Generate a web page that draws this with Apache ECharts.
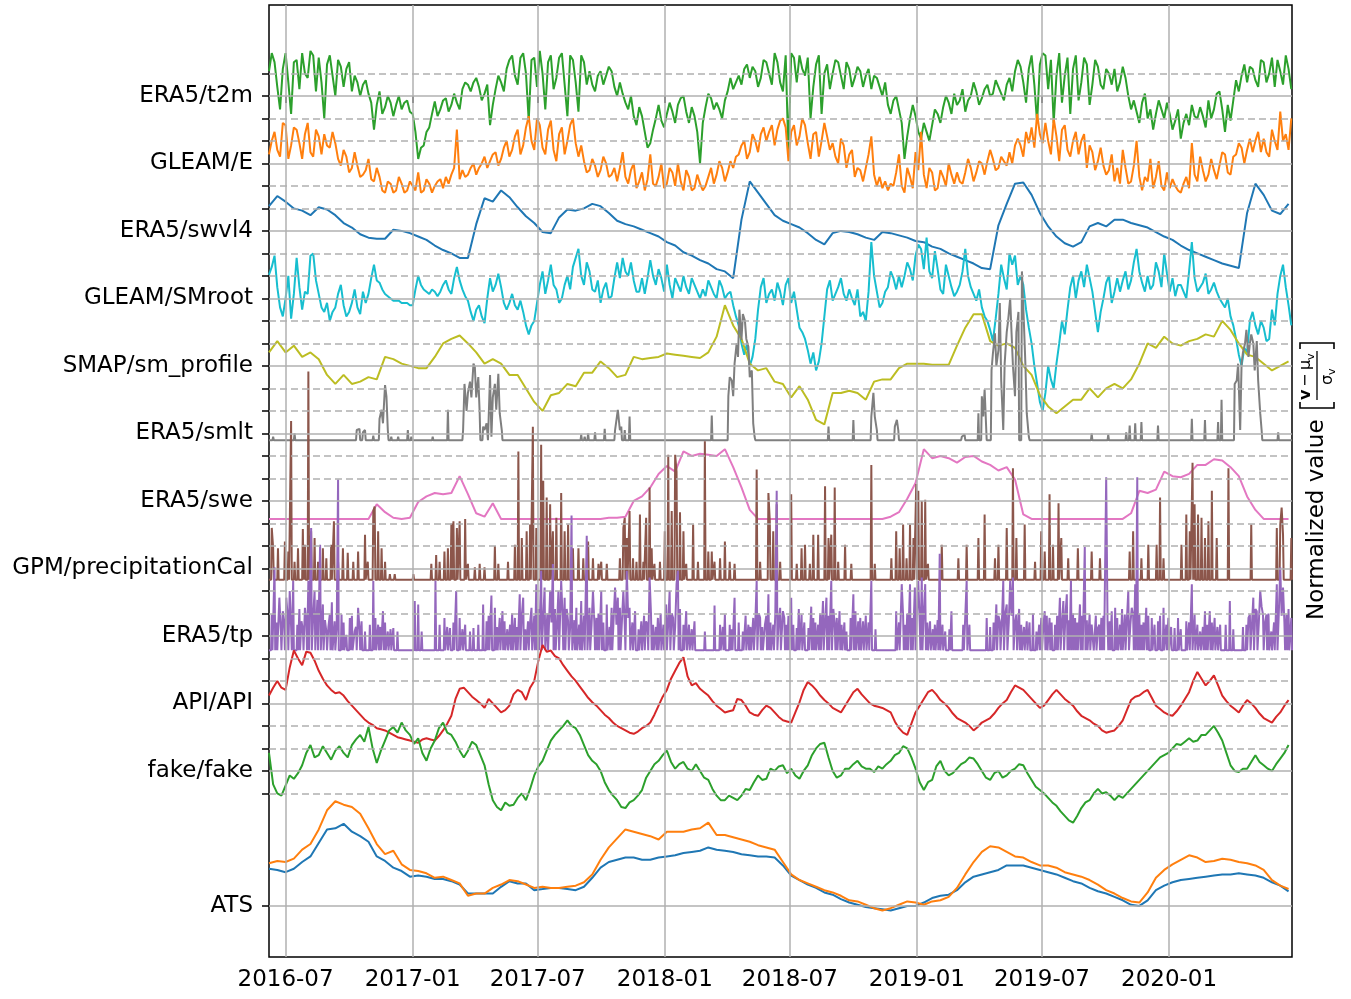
<!DOCTYPE html>
<html>
<head>
<meta charset="utf-8">
<script src="https://cdn.jsdelivr.net/npm/echarts@6/dist/echarts.min.js"></script>
<style>
  html, body { margin: 0; padding: 0; background: #fff; }
  #chart { width: 1351px; height: 999px; }
</style>
</head>
<body>
<div id="chart"></div>
<script>
const DAY = 86400000;
const start = Date.UTC(2016, 5, 7);
const nDays = 1481;
const end = start + nDays * DAY;

// row labels, top to bottom, and where their centre sits on the y axis
const rowNames = ['ERA5/t2m', 'GLEAM/E', 'ERA5/swvl4', 'GLEAM/SMroot', 'SMAP/sm_profile', 'ERA5/smlt',
  'ERA5/swe', 'GPM/precipitationCal', 'ERA5/tp', 'API/API', 'fake/fake', 'ATS'];
const rowCenters = [0, -3, -6, -9, -12, -15, -18, -21, -24, -27, -30, -36];
const tickDates = [[2016, 6], [2017, 0], [2017, 6], [2018, 0], [2018, 6], [2019, 0], [2019, 6], [2020, 0]];

// noisy series: one value every 8 days, plus the value 4 days later (mid)
const t2m = [1.1,1.5,-0.6,1.9,-0.8,1.6,1.9,0.8,1.8,1.7,-1.0,1.8,0.0,1.3,1.2,0.2,0.6,0.5,0.1,-1.5,
  0.2,-0.5,-0.3,-0.4,-0.6,-0.2,-0.8,-2.8,-2.2,-1.4,-0.25,-0.6,-0.1,-0.4,-0.3,0.3,0.5,0.6,0.4,0.1,
  -1.3,0.3,0.6,1.2,1.8,0.5,1.9,-1.1,1.7,2.0,-0.6,1.8,0.8,1.9,-0.9,1.6,-0.7,1.5,1.1,0.2,
  1.1,0.9,1.1,0.0,0.1,-0.6,-0.9,-0.5,-1.6,-2.1,-1.0,-1.1,-0.8,-0.7,-0.4,0.0,-1.2,-0.9,-3.0,-0.5,
  -0.1,-0.3,-1.0,0.2,0.3,0.9,1.2,0.8,1.1,0.8,1.5,0.5,1.5,0.2,-2.6,1.7,1.8,0.9,-1.0,1.4,
  -0.8,1.4,1.0,1.5,0.3,1.2,0.8,1.1,0.9,0.3,0.8,0.0,-0.4,-0.2,-0.6,-2.8,-1.0,-0.9,-1.9,-1.6,
  -1.3,-0.8,-0.5,-0.3,0.1,-0.2,-0.7,0.0,0.2,-0.1,0.5,0.1,0.4,-0.2,0.8,1.1,1.3,-0.3,1.8,-1.2,
  1.9,0.3,-1.2,1.9,0.9,-0.8,1.8,0.6,1.4,0.5,1.3,0.3,1.0,1.2,0.6,0.8,-0.6,-0.7,-0.3,-1.0,
  -1.5,-0.2,-1.0,-0.8,-1.1,-1.9,-0.8,-0.4,-1.0,-0.9,-0.2,-0.6,0.2,-1.6,-1.1,0.7,0.9,0.6,1.2,0.4,
  1.5,1.0,0.4,1.1,1.8,0.3];
const t2mMid = [1.9,0.4,1.2,0.6,1.5,0.3,1.0,2.0,0.2,0.6,1.4,0.9,1.6,0.4,1.5,0.9,0.0,0.7,-0.3,-0.4,
  -0.8,0.0,-0.9,0.0,-0.3,-0.7,-1.6,-2.3,-1.6,-0.8,-0.9,-0.2,-0.7,0.1,-0.6,0.6,0.2,0.8,-0.2,0.5,
  -0.4,0.9,0.2,1.6,0.9,1.7,1.0,1.6,0.4,1.0,1.5,0.3,1.7,0.5,1.8,0.6,1.8,0.5,0.5,0.9,
  0.5,1.3,0.4,0.6,-0.3,0.0,-1.3,-0.9,-2.3,-1.5,-0.4,-1.4,-0.3,-1.2,-0.1,-0.7,-0.5,-1.6,-1.2,0.1,
  -0.6,-0.6,-0.2,0.8,0.6,0.5,1.4,1.3,0.4,1.6,1.0,1.9,0.6,1.8,1.9,0.6,1.2,1.7,0.4,1.8,
  1.0,0.3,1.6,0.9,1.5,0.4,1.3,0.4,1.2,0.9,0.4,0.6,-0.8,0.0,-1.2,-1.8,-0.4,-1.6,-1.2,-2.0,
  -0.6,-1.2,0.0,-0.8,-0.4,0.3,-0.2,0.6,-0.4,0.3,0.0,0.7,0.1,0.5,0.2,1.6,0.6,1.2,0.5,1.4,
  1.8,1.6,0.9,-0.3,1.7,1.2,-0.2,1.7,-0.4,1.6,0.5,1.2,0.5,0.2,1.3,0.0,-0.2,-1.2,0.1,-0.6,
  -0.8,-0.6,-0.3,-1.5,-0.6,-1.2,-1.3,-0.9,-0.5,-1.4,-1.0,0.1,-0.6,-0.4,-0.2,0.2,1.4,1.3,0.7,1.6,
  0.6,1.7,1.6,0.5,1.2];

const gleamE = [0.4,1.4,0.3,1.7,0.8,1.5,0.2,1.8,0.3,1.2,1.3,0.7,0.9,-0.1,0.3,-0.2,-0.1,-0.5,0.2,-0.8,
  -0.6,-1.3,-0.9,-1.2,-0.9,-1.2,-1.0,-0.4,-1.2,-0.9,-1.0,-0.7,-0.6,-0.5,1.5,-0.3,-0.5,0.0,-0.2,0.3,
  0.1,0.5,0.2,1.0,0.6,1.5,0.8,2.1,0.6,1.7,0.4,1.9,0.1,1.6,1.0,2.0,0.3,0.1,-0.3,-0.1,
  -0.3,0.0,-0.5,-0.8,0.5,-0.9,0.0,-0.8,-1.2,0.4,-1.0,0.0,-0.9,-0.4,0.0,-1.2,-0.6,-1.1,-0.9,-1.0,
  -0.2,-0.5,-0.2,-0.4,-0.2,0.4,1.0,0.5,1.0,1.3,1.0,1.7,1.5,2.0,0.1,1.7,1.2,1.7,0.2,1.4,
  1.0,1.2,0.9,0.0,0.8,0.4,-0.6,-0.3,-0.2,1.2,-1.0,-1.1,-1.2,-1.0,0.4,-1.3,-0.6,0.5,1.4,-1.1,
  -0.4,-1.1,-0.6,0.0,-0.9,-0.8,-0.4,-0.2,-0.4,0.0,0.1,0.2,-0.2,0.1,0.5,0.8,0.8,1.4,1.6,2.2,
  0.9,1.0,2.0,0.1,1.7,0.3,1.4,1.0,-0.2,0.5,0.1,-0.1,-0.3,-0.8,-0.9,-0.2,-0.8,1.0,-1.2,-0.8,
  -1.1,0.1,-1.2,-1.1,-1.0,-1.3,-0.6,0.9,-0.8,-0.3,-0.5,-0.3,-0.1,0.4,-0.5,0.4,0.7,0.6,0.5,1.4,
  1.1,0.3,1.0,2.3,1.3,2.0];
const gleamEMid = [1.0,0.6,1.8,0.2,1.6,0.9,1.3,0.5,1.5,0.4,0.8,1.4,0.2,0.6,-0.4,0.5,-0.6,-0.3,-0.7,-0.2,
  -1.2,-0.8,-1.3,-0.6,-1.3,-0.8,-1.2,-1.3,-0.7,-1.3,-0.8,-1.1,-0.9,-0.2,-0.7,-0.6,-0.2,-0.5,0.0,-0.2,
  0.4,-0.1,0.7,0.3,1.2,0.4,1.6,1.0,2.0,0.7,1.5,0.6,1.3,0.4,1.7,0.9,0.8,-0.4,0.2,-0.6,
  0.3,-0.6,-0.2,-0.2,-0.6,-0.3,-1.1,-0.4,-0.7,-0.9,-0.6,-1.1,-0.2,-1.0,-0.8,-0.3,-1.2,-0.5,-1.2,-0.6,
  -0.9,0.1,-0.8,0.1,0.3,0.8,0.2,1.3,0.5,1.6,1.4,0.8,1.9,1.6,1.4,0.8,2.0,0.9,1.3,0.3,
  1.8,0.6,0.3,1.1,-0.2,0.6,-0.2,-0.8,0.4,-0.5,-0.6,-0.8,-0.9,-0.4,-1.0,-0.2,-1.1,-0.3,-0.5,-0.2,
  -1.2,-0.3,-1.0,-0.5,-0.4,-0.9,0.2,-0.8,0.1,-0.5,0.6,-0.3,0.3,-0.1,0.0,1.1,0.3,0.9,0.7,1.3,
  1.8,0.4,1.2,1.5,0.6,1.0,0.4,1.3,0.8,-0.3,0.7,-0.5,0.4,-0.2,0.6,-0.9,-0.1,-0.6,-0.6,0.2,
  -0.6,-1.0,-0.4,-0.7,-1.2,-0.9,-1.1,-0.5,0.3,-0.8,0.2,-0.7,0.5,-0.4,0.3,0.9,0.0,1.1,1.0,0.5,
  0.5,1.5,0.6,1.0,0.6];

const smroot = [1.05,1.9,-0.4,0.0,-0.9,1.8,-0.5,0.2,2.0,0.2,-0.6,-1.0,-0.4,0.6,-0.8,-0.2,-0.4,0.3,0.2,1.5,
  0.7,0.2,0.0,-0.1,-0.2,-0.2,-0.3,1.0,0.4,0.2,0.3,0.3,0.8,0.2,1.4,0.4,-0.1,-1.0,-0.3,-1.1,
  0.9,0.6,0.5,-0.5,0.2,-0.5,-0.6,-1.6,-1.0,0.6,0.2,1.5,0.4,0.0,1.0,1.4,2.2,0.6,1.2,0.3,
  -0.2,0.7,0.1,1.6,1.8,1.0,0.8,0.3,0.2,1.7,0.6,0.9,1.5,0.0,0.6,1.0,0.2,0.6,0.0,0.1,
  0.5,0.0,0.5,0.2,-0.3,-1.2,-2.5,-3.0,-1.8,0.5,-0.2,0.4,0.7,-0.3,0.9,0.3,-1.3,-1.8,-2.9,-3.2,
  -2.0,0.4,-0.1,0.5,0.2,0.4,-0.3,-0.8,-1.0,2.5,0.3,-0.2,0.5,0.9,1.0,1.0,1.3,1.9,2.2,2.7,
  0.9,1.3,0.2,1.0,0.1,0.6,2.2,0.5,-0.1,-0.4,-1.0,-1.9,0.2,0.9,2.0,1.9,1.0,-0.5,-2.0,-3.8,
  -5.0,-3.0,-4.0,-2.0,-1.6,0.5,0.0,1.2,1.5,0.3,-1.5,0.0,1.0,0.3,0.3,1.2,0.8,2.2,0.7,1.0,
  0.6,1.2,2.0,0.3,0.1,0.6,0.0,2.5,0.3,0.7,0.2,0.7,0.0,-0.4,-0.8,-1.8,-3.0,-2.4,-0.6,-1.6,
  -1.3,-1.8,-1.2,1.0,0.5,-1.2];
const smrootMid = [1.4,0.5,-0.8,1.0,0.2,0.5,0.3,1.9,0.8,-0.4,-0.2,-0.6,0.2,-0.3,-0.6,0.4,-0.7,-0.2,0.9,0.8,
  0.4,0.1,-0.1,-0.1,-0.2,-0.3,0.4,0.6,0.3,0.4,0.1,0.6,0.4,0.9,0.8,0.1,-0.6,-0.5,-0.8,0.0,
  0.3,1.1,-0.2,-0.2,-0.3,-0.1,-1.2,-1.2,-0.2,1.2,0.8,0.6,-0.2,0.6,0.4,1.8,1.0,1.6,0.4,0.8,
  0.4,0.0,0.9,0.9,1.2,1.6,0.3,0.9,0.9,1.0,1.3,0.3,0.6,0.9,0.3,0.5,0.9,0.3,0.4,0.8,
  0.2,0.8,0.0,0.3,-0.8,-2.0,-2.0,-2.6,-0.5,0.9,0.2,-0.1,0.3,0.6,-0.2,-0.5,-1.5,-2.3,-2.4,-2.8,
  -0.8,0.8,0.2,0.9,-0.1,0.0,0.4,-0.6,0.3,1.0,-0.4,0.3,1.2,0.4,0.5,1.6,0.8,2.4,1.3,1.2,
  2.1,0.4,1.5,0.5,0.3,1.2,1.0,0.2,0.4,-0.8,-1.4,-0.9,1.5,0.4,1.5,0.6,0.6,-1.3,-3.0,-4.6,
  -4.2,-3.6,-2.9,-1.0,-0.5,1.0,0.8,0.5,0.9,-0.6,-0.6,0.7,-0.2,0.9,0.8,0.4,1.6,1.2,0.3,0.4,
  1.6,0.5,1.1,0.9,0.6,0.3,1.2,0.9,0.5,1.1,0.4,0.3,-0.2,0.0,-1.2,-2.5,-2.2,-1.0,-1.2,-1.0,
  -1.9,-0.5,0.2,1.5,-0.3];

// smoother series, one value every 12 days (api and fake also have a mid value 6 days later)
const swvl4 = [1.1,1.55,1.3,1.0,0.9,0.7,1.05,0.95,0.7,0.35,0.15,-0.15,-0.3,-0.35,-0.35,0.05,0.0,-0.1,-0.25,-0.4,
  -0.65,-0.85,-1.0,-1.2,-1.2,0.3,1.45,1.3,1.8,1.5,1.05,0.65,0.35,-0.05,-0.1,0.6,0.95,0.9,1.0,1.2,
  1.1,0.8,0.45,0.3,0.2,0.05,-0.1,-0.25,-0.5,-0.65,-0.95,-1.1,-1.3,-1.45,-1.7,-1.8,-2.1,0.5,2.2,1.7,
  1.2,0.7,0.45,0.3,0.15,-0.1,-0.4,-0.6,-0.1,0.0,-0.05,-0.15,-0.3,-0.4,-0.05,-0.1,-0.2,-0.3,-0.45,-0.5,
  -0.7,-0.8,-1.0,-1.15,-1.3,-1.45,-1.65,-1.7,0.25,1.2,2.1,2.15,1.6,0.8,0.2,-0.25,-0.55,-0.7,-0.5,0.2,
  0.35,0.2,0.5,0.5,0.35,0.25,0.15,-0.05,-0.25,-0.4,-0.65,-0.85,-1.0,-1.15,-1.3,-1.45,-1.55,-1.65,0.8,2.1,
  1.6,0.9,0.75,1.2];

const smap = [0.6,1.1,0.6,0.9,0.4,0.6,0.3,-0.4,-0.8,-0.4,-0.8,-0.7,-0.5,-0.6,0.4,0.3,0.1,0.0,-0.1,-0.1,
  0.4,1.0,1.2,1.35,1.0,0.6,0.1,0.3,0.1,-0.4,-0.4,-1.0,-1.6,-2.0,-1.3,-1.2,-0.8,-0.9,-0.3,-0.3,
  0.2,-0.1,-0.5,-0.4,0.4,0.3,0.35,0.4,0.55,0.5,0.45,0.4,0.35,0.6,1.3,2.7,1.8,1.2,0.1,-0.2,
  -0.1,-0.7,-0.8,-1.4,-0.9,-1.5,-2.4,-2.6,-1.2,-1.2,-1.1,-1.2,-1.5,-0.7,-0.6,-0.6,-0.1,0.1,0.1,0.1,
  0.05,0.05,0.05,0.9,1.7,2.3,2.3,1.1,0.9,1.0,0.8,0.0,-0.4,-1.3,-1.8,-2.1,-1.8,-1.5,-1.5,-1.0,
  -1.4,-1.0,-0.8,-1.0,-0.6,0.1,1.0,0.8,1.3,1.0,0.9,1.1,1.2,1.4,1.3,2.0,1.6,1.0,0.5,0.4,
  0.1,-0.2,0.0,0.2];

const swe = [-0.8,-0.8,-0.8,-0.8,-0.8,-0.8,-0.8,-0.8,-0.8,-0.8,-0.8,-0.8,-0.8,-0.15,-0.5,-0.75,-0.8,-0.75,-0.05,0.2,
  0.35,0.3,0.35,1.1,0.3,-0.55,-0.7,-0.1,-0.8,-0.8,-0.8,-0.8,-0.8,-0.8,-0.8,-0.8,-0.8,-0.8,-0.8,-0.8,
  -0.8,-0.75,-0.75,-0.7,0.0,0.2,0.6,1.2,1.55,1.3,2.2,2.0,2.1,2.05,2.0,2.3,1.5,0.6,-0.4,-0.8,
  -0.8,-0.8,-0.8,-0.8,-0.8,-0.8,-0.8,-0.8,-0.8,-0.8,-0.8,-0.8,-0.8,-0.8,-0.8,-0.7,-0.5,0.1,0.8,2.3,
  1.9,2.0,1.9,1.7,1.95,2.0,1.75,1.6,1.35,1.5,0.95,-0.6,-0.8,-0.8,-0.8,-0.8,-0.8,-0.8,-0.8,-0.8,
  -0.8,-0.8,-0.8,-0.8,-0.55,0.45,0.35,0.5,1.3,1.1,1.05,1.2,1.6,1.6,1.85,1.8,1.5,1.1,0.2,-0.4,
  -0.8,-0.8,-0.8,-0.8];

const api = [0.35,1.0,0.6,2.35,1.7,2.25,1.45,0.8,0.45,0.35,-0.1,-0.5,-0.85,-1.1,-1.2,-1.4,-1.55,-1.65,-1.75,-1.55,
  -1.65,-1.2,-0.55,0.65,0.5,0.15,-0.2,0.0,-0.4,-0.1,0.6,0.15,1.0,2.6,2.35,2.0,1.45,1.0,0.5,0.05,
  -0.3,-0.65,-1.0,-1.2,-1.35,-1.1,-0.85,-0.1,0.6,1.45,2.05,0.8,0.65,0.35,-0.1,-0.4,-0.3,0.15,-0.4,-0.55,
  -0.1,-0.4,-0.75,-0.85,0.05,0.95,0.6,0.15,-0.2,-0.4,0.2,0.65,0.2,-0.1,-0.2,-0.4,-1.1,-1.4,-0.4,0.2,
  0.6,0.15,-0.2,-0.65,-0.85,-1.2,-0.85,-0.65,-0.2,0.15,0.8,0.6,0.2,-0.2,0.15,0.6,0.2,-0.1,-0.55,-0.75,
  -1.0,-1.3,-1.2,-0.75,0.15,0.35,0.6,-0.1,-0.4,-0.55,-0.1,0.5,1.4,0.8,1.25,0.35,-0.1,-0.4,0.15,-0.2,
  -0.65,-0.85,-0.4,0.15];
const apiMid = [0.7,0.7,1.6,2.0,2.3,1.9,1.1,0.6,0.5,0.1,-0.3,-0.7,-0.95,-1.15,-1.3,-1.5,-1.6,-1.7,-1.6,-1.6,
  -1.45,-0.9,0.2,0.7,0.3,0.0,0.2,-0.2,-0.3,0.4,0.5,0.7,1.9,2.3,2.1,1.7,1.2,0.75,0.25,-0.1,
  -0.5,-0.85,-1.1,-1.3,-1.25,-1.0,-0.5,0.3,1.1,1.8,1.2,0.9,0.5,0.1,-0.25,-0.35,0.2,-0.1,-0.5,-0.3,
  -0.2,-0.6,-0.8,-0.4,0.6,0.8,0.35,0.0,-0.3,-0.1,0.5,0.4,0.0,-0.15,-0.3,-0.8,-1.3,-0.9,-0.1,0.5,
  0.4,0.0,-0.45,-0.75,-1.0,-1.05,-0.75,-0.45,0.0,0.5,0.7,0.4,0.0,-0.1,0.4,0.4,0.05,-0.35,-0.65,-0.9,
  -1.2,-1.25,-1.0,-0.3,0.3,0.5,0.25,-0.25,-0.5,-0.35,0.2,1.0,1.1,1.0,0.8,0.1,-0.25,-0.1,0.0,-0.45,
  -0.75,-0.6,-0.1];

const fake = [0.8,-1.0,-0.65,-0.35,0.25,1.15,0.7,0.8,0.9,0.8,1.15,1.6,1.95,0.35,1.35,1.95,2.15,1.6,1.45,0.45,
  1.35,2.15,1.6,0.9,0.9,1.15,0.25,-1.3,-1.75,-1.55,-1.2,-1.3,-0.2,0.45,1.35,1.8,2.25,1.9,1.15,0.45,
  0.0,-0.85,-1.3,-1.65,-1.3,-0.85,0.0,0.45,0.9,0.1,0.4,0.0,0.0,-0.4,-1.1,-1.3,-1.2,-1.1,-0.85,-0.2,
  -0.35,0.0,0.25,0.1,-0.35,0.25,1.0,1.25,0.0,-0.2,0.1,0.45,0.1,-0.05,0.1,0.45,0.8,1.0,0.1,-0.85,
  -0.4,0.45,-0.2,0.1,0.4,0.55,0.0,-0.4,0.0,-0.2,0.1,0.25,-0.4,-0.85,-1.2,-1.55,-2.0,-2.3,-1.65,-1.3,
  -0.8,-0.95,-1.3,-1.2,-0.8,-0.4,0.0,0.4,0.7,1.0,1.15,1.45,1.35,1.6,2.0,1.35,0.25,-0.05,0.1,0.7,
  0.25,0.0,0.55,1.15];
const fakeMid = [-0.6,-1.1,-0.2,-0.1,0.8,0.6,1.1,0.5,1.1,0.6,1.4,1.3,1.0,0.9,1.8,1.7,1.8,1.2,0.8,1.0,
  1.9,1.7,1.3,0.6,1.3,0.7,-0.6,-1.6,-1.4,-1.5,-1.0,-0.8,0.2,0.9,1.6,2.0,2.0,1.6,0.7,0.3,
  -0.5,-1.1,-1.6,-1.4,-1.1,-0.3,0.3,0.7,0.4,0.3,0.1,0.3,-0.3,-0.8,-1.3,-1.1,-1.3,-0.8,-0.5,-0.4,
  0.1,0.2,-0.1,-0.2,0.0,0.7,1.2,0.6,-0.3,0.1,0.3,0.2,0.1,0.2,0.3,0.7,1.1,0.6,-0.5,-0.5,
  0.2,0.0,-0.1,0.3,0.6,0.3,-0.3,-0.1,-0.3,0.0,0.3,-0.1,-0.7,-1.0,-1.4,-1.8,-2.2,-2.0,-1.4,-1.0,
  -1.0,-1.1,-1.1,-1.0,-0.6,-0.2,0.2,0.6,0.8,1.2,1.3,1.3,1.6,1.8,1.7,0.8,0.0,0.1,0.4,0.4,
  0.1,0.3,0.8];

const atsBlue = [1.65,1.6,1.5,1.65,1.95,2.2,2.8,3.4,3.45,3.65,3.3,3.1,2.85,2.2,2.0,1.7,1.55,1.3,1.35,1.3,
  1.2,1.2,1.1,0.95,0.55,0.55,0.55,0.55,0.85,1.1,1.0,1.0,0.7,0.75,0.8,0.8,0.75,0.7,0.85,1.25,
  1.7,1.95,2.05,2.15,2.15,2.05,2.05,2.15,2.2,2.25,2.35,2.4,2.45,2.6,2.5,2.45,2.4,2.3,2.25,2.2,
  2.2,2.15,1.8,1.35,1.15,0.95,0.8,0.6,0.5,0.3,0.15,0.05,-0.05,-0.1,-0.15,-0.2,-0.1,0.0,0.0,0.15,
  0.35,0.45,0.5,0.7,1.05,1.3,1.4,1.5,1.6,1.8,1.8,1.8,1.7,1.6,1.5,1.4,1.25,1.1,1.0,0.8,
  0.65,0.55,0.4,0.25,0.05,0.0,0.25,0.7,0.9,1.05,1.15,1.2,1.25,1.3,1.35,1.4,1.4,1.45,1.4,1.35,
  1.25,1.05,0.9,0.65];

const atsOrange = [1.9,2.0,1.95,2.1,2.5,2.75,3.4,4.25,4.65,4.5,4.4,4.1,3.45,2.75,2.3,2.45,1.85,1.6,1.55,1.45,
  1.25,1.3,1.15,1.0,0.45,0.55,0.55,0.8,0.95,1.15,1.1,0.95,0.8,0.85,0.8,0.8,0.85,0.9,1.05,1.4,
  2.05,2.6,3.0,3.4,3.3,3.2,3.1,2.95,3.3,3.3,3.3,3.4,3.45,3.7,3.15,3.15,3.05,2.95,2.85,2.7,
  2.6,2.5,1.95,1.4,1.15,1.0,0.85,0.7,0.6,0.45,0.25,0.2,0.05,-0.1,-0.2,-0.1,0.05,0.2,0.15,0.05,
  0.2,0.25,0.4,0.8,1.4,1.95,2.4,2.65,2.6,2.4,2.2,2.15,1.95,1.8,1.8,1.7,1.5,1.4,1.3,1.15,
  0.95,0.7,0.55,0.35,0.2,0.15,0.6,1.25,1.6,1.85,2.05,2.25,2.15,1.95,2.0,2.1,2.05,1.95,1.9,1.8,
  1.6,1.15,0.9,0.75];

// spiky series: [day since start, value] for each event, resting level in between
const smltBase = -0.3;
const smltPeaks = [[6,-0.15],[37,0.0],[127,0.15],[131,0.2],[136,0.05],[139,0.15],[151,-0.1],[160,0.65],[163,1.05],[165,0.45],
  [168,2.15],[170,1.65],[172,0.15],[177,-0.15],[187,-0.15],[201,0.15],[206,-0.15],[237,-0.15],[259,1.05],[281,0.15],
  [283,2.2],[286,1.0],[288,1.8],[291,2.3],[293,1.6],[296,3.1],[298,2.95],[300,1.6],[303,2.5],[305,0.9],
  [310,0.3],[312,0.15],[315,0.45],[317,-0.3],[320,2.6],[322,-0.15],[324,1.6],[327,2.2],[329,1.05],[332,2.65],
  [334,0.9],[337,0.15],[452,-0.05],[457,-0.15],[462,0.0],[472,0.05],[486,0.2],[501,0.15],[505,1.05],[508,0.15],
  [510,0.3],[515,0.15],[522,0.75],[641,0.8],[665,1.65],[667,2.5],[670,2.35],[672,1.65],[674,3.1],[677,4.0],
  [679,3.4],[681,5.5],[684,4.15],[686,5.3],[689,5.0],[691,4.2],[694,3.85],[696,2.5],[699,2.8],[701,0.45],
  [703,-0.15],[810,0.3],[846,0.6],[872,0.75],[875,1.8],[877,0.75],[880,0.15],[906,0.3],[909,0.6],[911,0.15],
  [1003,-0.15],[1007,-0.05],[1027,0.9],[1032,1.65],[1034,0.75],[1036,1.95],[1039,-0.3],[1046,2.8],[1048,3.55],[1051,4.45],
  [1053,3.0],[1056,3.7],[1058,5.8],[1060,2.35],[1063,0.15],[1065,3.1],[1068,4.5],[1070,5.0],[1073,6.0],[1075,4.45],
  [1077,3.0],[1080,1.65],[1082,4.5],[1085,5.4],[1090,7.2],[1093,4.8],[1095,3.1],[1097,0.9],[1100,-0.15],[1191,0.0],
  [1215,-0.05],[1241,0.05],[1246,0.35],[1254,0.45],[1263,0.5],[1287,0.35],[1336,0.65],[1355,0.6],[1374,0.5],[1379,1.5],
  [1398,2.2],[1401,2.35],[1403,3.1],[1406,0.15],[1408,3.1],[1410,3.6],[1413,4.0],[1415,4.6],[1418,3.4],[1420,4.0],
  [1422,4.4],[1425,4.0],[1427,2.8],[1430,4.1],[1432,2.35],[1435,0.9],[1437,0.15],[1461,0.05]];

const gpmBase = -0.5;
const gpmPeaks = [[4,1.8],[6,0.9],[13,0.9],[23,1.2],[28,0.75],[32,6.55],[37,0.3],[42,0.9],[49,1.75],[52,1.05],
  [57,8.75],[61,1.65],[66,1.35],[71,0.3],[78,0.9],[83,0.45],[90,1.05],[94,2.1],[100,0.3],[107,0.9],
  [114,0.7],[122,0.3],[129,0.75],[139,1.5],[143,0.3],[151,2.55],[153,2.75],[158,1.65],[163,0.9],[168,0.3],
  [175,-0.25],[182,-0.25],[209,-0.25],[235,0.2],[242,0.6],[247,0.3],[254,0.75],[259,0.9],[264,2.0],[267,2.1],
  [272,1.8],[276,2.1],[284,2.2],[288,0.2],[298,0.05],[305,0.2],[312,0.05],[327,1.0],[332,0.2],[346,0.3],
  [356,1.05],[361,5.2],[366,1.35],[373,1.65],[378,1.95],[382,6.3],[387,1.8],[394,5.5],[397,3.9],[402,3.15],
  [407,2.85],[411,1.65],[416,2.25],[423,3.35],[428,1.65],[433,1.95],[440,0.9],[448,0.9],[455,0.45],[462,1.2],
  [469,0.45],[477,0.2],[481,0.3],[489,0.2],[508,0.45],[513,1.8],[515,2.25],[518,1.35],[522,2.55],[527,0.45],
  [532,0.3],[537,2.4],[542,0.3],[546,2.25],[551,3.6],[554,0.9],[558,0.2],[566,0.3],[573,1.65],[578,5.05],
  [583,2.55],[588,5.05],[590,4.3],[595,2.5],[600,1.65],[604,0.2],[614,1.95],[621,0.3],[631,5.65],[636,0.75],
  [641,0.75],[645,0.3],[653,0.45],[660,1.2],[667,0.3],[674,0.2],[706,4.4],[711,0.3],[723,3.35],[725,2.1],
  [730,1.65],[735,2.85],[740,0.3],[756,3.3],[764,0.2],[771,0.9],[776,1.05],[783,0.2],[788,1.5],[795,1.5],
  [805,3.65],[810,1.35],[814,1.5],[819,3.6],[824,0.3],[834,1.05],[843,0.2],[872,4.6],[877,0.2],[901,0.45],
  [908,1.65],[913,0.9],[918,1.95],[923,0.45],[928,1.95],[933,1.35],[937,3.75],[940,3.45],[945,3.0],[950,3.05],
  [954,0.2],[974,1.05],[998,0.45],[1010,1.05],[1027,1.35],[1036,2.4],[1051,0.45],[1056,1.05],[1068,1.8],[1077,4.45],
  [1082,1.35],[1094,1.95],[1109,0.3],[1118,1.65],[1123,0.75],[1130,3.3],[1135,1.05],[1143,2.9],[1147,1.35],[1157,0.45],
  [1171,0.9],[1191,0.75],[1203,0.45],[1246,0.75],[1251,1.65],[1263,0.45],[1273,1.05],[1285,1.05],[1290,3.15],[1295,0.45],
  [1321,1.05],[1328,2.4],[1333,1.65],[1337,4.7],[1340,2.85],[1345,2.4],[1350,2.25],[1355,1.35],[1360,2.1],[1365,3.45],
  [1372,1.35],[1389,4.45],[1422,1.95],[1459,1.8],[1464,1.95],[1466,2.7],[1468,1.5],[1480,1.35]];

const tpBase = -0.64;
const tpPeaks = [[4,0.95],[8,3.05],[15,1.7],[20,1.1],[25,1.7],[30,2.0],[35,2.45],[47,0.65],[52,1.25],[57,2.45],
  [61,4.8],[66,2.0],[74,4.05],[78,1.4],[83,0.2],[88,0.95],[95,0.65],[100,6.95],[105,0.95],[112,0.05],
  [117,0.8],[124,0.2],[129,1.25],[134,0.65],[139,0.2],[151,2.45],[158,0.5],[165,1.1],[172,0.2],[180,0.35],
  [211,1.55],[216,1.4],[221,0.2],[241,2.45],[247,0.5],[254,0.8],[262,0.35],[271,2.0],[276,0.8],[284,0.5],
  [291,0.2],[296,0.35],[310,1.4],[315,0.65],[322,1.8],[327,1.25],[334,0.8],[341,0.65],[349,0.5],[356,0.8],
  [363,1.85],[368,1.7],[375,0.65],[380,1.25],[387,2.3],[394,2.9],[399,2.15],[407,2.0],[411,3.2],[419,2.0],
  [423,2.45],[428,1.7],[433,0.65],[438,5.35],[445,1.25],[452,1.55],[460,4.45],[464,1.25],[469,2.0],[474,0.8],
  [481,2.0],[489,1.4],[496,1.25],[501,2.15],[505,1.7],[508,1.25],[513,2.0],[518,2.9],[522,1.25],[530,1.1],
  [539,0.65],[546,0.65],[551,2.6],[556,0.5],[563,0.8],[571,0.5],[575,1.4],[580,2.0],[585,0.8],[590,2.3],
  [592,2.9],[600,0.5],[604,1.1],[616,0.65],[631,0.2],[645,1.35],[653,0.5],[660,0.95],[667,0.5],[674,1.7],
  [686,0.2],[694,0.5],[701,0.8],[706,2.45],[711,0.8],[718,0.5],[723,1.85],[730,0.5],[735,6.45],[740,1.25],
  [744,1.1],[749,0.5],[756,1.7],[764,0.35],[771,0.95],[781,0.35],[788,0.8],[795,0.5],[802,1.55],[807,1.7],
  [814,2.45],[822,0.8],[829,0.5],[836,0.2],[846,1.85],[853,0.65],[860,0.65],[872,2.45],[908,1.1],[916,2.3],
  [921,0.5],[928,2.3],[935,2.15],[940,2.45],[945,2.6],[950,2.3],[957,0.65],[964,0.5],[971,3.65],[979,0.2],
  [988,1.1],[1005,0.5],[1010,2.45],[1039,0.8],[1053,1.4],[1058,0.65],[1063,2.45],[1068,1.4],[1073,2.45],[1077,2.6],
  [1082,0.95],[1089,0.5],[1097,0.65],[1111,0.2],[1118,0.8],[1123,1.1],[1130,0.8],[1138,0.5],[1145,1.7],[1150,1.55],
  [1155,1.85],[1161,2.45],[1167,0.8],[1174,1.4],[1181,3.95],[1188,0.95],[1193,0.5],[1200,0.35],[1205,0.8],[1212,7.05],
  [1217,0.65],[1225,1.25],[1232,0.5],[1239,0.95],[1244,2.0],[1249,1.25],[1254,2.3],[1257,7.05],[1263,0.5],[1270,1.25],
  [1278,0.8],[1287,0.65],[1295,1.25],[1302,0.8],[1311,0.35],[1316,0.8],[1328,0.65],[1336,2.3],[1340,0.95],[1348,0.2],
  [1355,1.1],[1362,1.1],[1369,0.8],[1377,0.5],[1391,1.55],[1415,0.5],[1420,0.95],[1425,1.7],[1430,1.1],[1435,2.0],
  [1439,0.95],[1444,0.95],[1451,0.2],[1459,2.3],[1464,3.05],[1468,2.15],[1473,0.95],[1480,0.8]];
// the smaller rain days between the big ones
const tpSmall = [[11,0.6],[17,0.3],[22,0.5],[27,0.9],[32,0.4],[41,0.5],[44,1.2],[49,0.3],[54,0.6],[64,0.9],
  [70,1.6],[81,0.7],[86,0.4],[91,1.5],[98,0.3],[108,0.6],[120,0.9],[126,0.4],[131,0.3],[146,0.5],
  [154,0.8],[161,0.4],[168,0.6],[176,0.3],[186,0.2],[258,0.4],[267,0.6],[280,0.3],[303,0.5],[318,0.9],
  [330,0.4],[338,1.1],[345,0.3],[352,1.0],[359,0.4],[366,0.9],[371,0.3],[378,0.6],[384,0.9],[390,1.2],
  [397,0.8],[403,1.0],[409,0.6],[414,1.2],[417,0.5],[425,0.9],[431,1.2],[436,0.4],[442,0.7],[449,0.5],
  [456,0.9],[467,0.5],[471,0.6],[477,1.0],[484,0.6],[493,0.4],[499,0.8],[503,0.5],[511,0.7],[515,0.5],
  [520,0.8],[526,0.6],[535,0.3],[543,0.9],[548,0.5],[553,1.0],[560,0.4],[567,1.0],[578,0.6],[583,1.0],
  [588,0.4],[595,1.2],[608,0.5],[612,0.3],[657,0.4],[670,0.3],[680,0.6],[690,0.9],[697,0.4],[704,0.6],
  [709,1.0],[714,0.4],[720,0.9],[726,0.6],[733,1.0],[738,0.7],[746,0.8],[752,0.9],[759,0.5],[767,1.2],
  [775,0.6],[785,1.3],[791,0.6],[798,1.0],[805,0.6],[810,0.9],[817,1.2],[819,0.5],[826,1.1],[833,0.6],
  [842,0.8],[849,1.1],[856,0.8],[864,0.9],[868,0.6],[878,0.3],[912,0.6],[918,0.9],[924,1.0],[931,0.8],
  [938,1.0],[942,0.6],[948,1.1],[953,0.6],[961,0.3],[968,0.7],[975,0.5],[985,0.3],[1008,0.9],[1014,0.5],
  [1044,0.4],[1049,0.6],[1056,0.9],[1061,0.6],[1066,1.0],[1071,0.6],[1075,0.9],[1080,0.6],[1086,1.2],[1093,0.4],
  [1101,0.6],[1106,1.0],[1115,0.5],[1121,0.4],[1126,0.9],[1133,0.6],[1141,0.9],[1148,0.6],[1153,0.9],[1158,0.7],
  [1164,1.0],[1170,0.6],[1177,0.9],[1184,0.7],[1191,0.5],[1197,0.9],[1202,0.5],[1208,0.9],[1214,0.5],[1220,1.1],
  [1228,0.8],[1235,1.2],[1242,0.7],[1247,0.5],[1251,0.9],[1260,1.0],[1266,0.6],[1273,0.9],[1282,0.5],[1290,0.9],
  [1299,0.5],[1306,0.4],[1320,0.3],[1332,0.6],[1344,0.5],[1352,0.4],[1358,0.5],[1365,0.6],[1373,0.4],[1385,0.5],
  [1396,0.3],[1410,0.4],[1418,0.8],[1423,0.5],[1428,1.2],[1433,0.6],[1437,1.3],[1442,0.6],[1447,1.0],[1455,0.6],
  [1462,1.1],[1466,0.9],[1470,0.6],[1476,1.2]];

// ---- build [time, offset value] pairs ----
function stepped(vals, step, row) {
  return vals.map((v, i) => [start + i * step * DAY, rowCenters[row] + v]).filter(p => p[0] <= end);
}
function withMid(vals, mids, step, row) {
  const out = [];
  vals.forEach((v, i) => {
    out.push([start + i * step * DAY, rowCenters[row] + v]);
    if (i < mids.length) out.push([start + (i * step + step / 2) * DAY, rowCenters[row] + mids[i]]);
  });
  return out.filter(p => p[0] <= end);
}
function spiky(peaks, base, row, gap) {
  const c = rowCenters[row];
  const out = [[start, c + base]];
  peaks.forEach(([d, v], i) => {
    const prev = i > 0 ? peaks[i - 1][0] : -10;
    const next = i < peaks.length - 1 ? peaks[i + 1][0] : 1e9;
    if (d - prev > gap) out.push([start + (d - 1) * DAY, c + base]);
    out.push([start + d * DAY, c + v]);
    if (next - d > gap) out.push([start + (d + 1) * DAY, c + base]);
  });
  out.push([end, c + base]);
  return out;
}

const C = {
  blue: '#1f77b4', orange: '#ff7f0e', green: '#2ca02c', red: '#d62728', purple: '#9467bd',
  brown: '#8c564b', pink: '#e377c2', gray: '#7f7f7f', olive: '#bcbd22', cyan: '#17becf'
};

const tpAll = tpPeaks.concat(tpSmall).sort((a, b) => a[0] - b[0]);

const lines = [
  [withMid(t2m, t2mMid, 8, 0), C.green],
  [withMid(gleamE, gleamEMid, 8, 1), C.orange],
  [stepped(swvl4, 12, 2), C.blue],
  [withMid(smroot, smrootMid, 8, 3), C.cyan],
  [stepped(smap, 12, 4), C.olive],
  [spiky(smltPeaks, smltBase, 5, 4), C.gray],
  [stepped(swe, 12, 6), C.pink],
  [spiky(gpmPeaks, gpmBase, 7, 2), C.brown],
  [spiky(tpAll, tpBase, 8, 2), C.purple],
  [withMid(api, apiMid, 12, 9), C.red],
  [withMid(fake, fakeMid, 12, 10), C.green],
  [stepped(atsBlue, 12, 11), C.blue],
  [stepped(atsOrange, 12, 11), C.orange]
];

const tickTimes = tickDates.map(([y, m]) => Date.UTC(y, m, 1));
const minorVals = [];
rowCenters.slice(0, 11).forEach(c => { minorVals.push(c + 1, c - 1); });

const gridLines = [];
rowCenters.forEach(c => gridLines.push({ yAxis: c, lineStyle: { type: 'solid' } }));
minorVals.forEach(v => gridLines.push({ yAxis: v, lineStyle: { type: [7, 4] } }));
tickTimes.forEach(t => gridLines.push({ xAxis: t, lineStyle: { type: 'solid' } }));

const FONT = 'DejaVu Sans';
const chart = echarts.init(document.getElementById('chart'), null, { renderer: 'canvas' });

const series = [{
  type: 'line', data: [], z: 1, silent: true,
  markLine: {
    silent: true, symbol: ['none', 'none'], animation: false, label: { show: false },
    lineStyle: { color: '#b0b0b0', width: 1.5 },
    data: gridLines
  }
}];
lines.forEach(([data, color]) => {
  series.push({
    type: 'line', data: data, z: 3, showSymbol: false, symbol: 'none', sampling: null,
    lineStyle: { color: color, width: 2 }, itemStyle: { color: color }, silent: true
  });
});

// pieces of the rotated axis title: [text, x along the title, offset across it, size, weight, vertical anchor]
const titleBits = [
  ['v', 82, -3, 16, 'bold', 'bottom'],
  ['−', 95, -3, 16, 'normal', 'bottom'],
  ['μ', 112, -3, 16, 'normal', 'bottom'],
  ['v', 122, 0, 11, 'normal', 'bottom'],
  ['σ', 97, 3, 16, 'normal', 'top'],
  ['v', 107, 10, 11, 'normal', 'top']
];

chart.setOption({
  animation: false,
  backgroundColor: '#fff',
  grid: { left: 269, right: 59, top: 5, bottom: 42, show: true, borderColor: '#000', borderWidth: 1.5, backgroundColor: 'transparent' },
  xAxis: {
    type: 'value', min: start, max: end,
    axisLine: { show: false },
    splitLine: { show: false },
    axisTick: { show: true, length: 7, lineStyle: { color: '#000', width: 1.5 }, customValues: tickTimes },
    axisLabel: {
      customValues: tickTimes, margin: 12, color: '#000', fontFamily: FONT, fontSize: 23,
      formatter: v => { const d = new Date(v); return d.getUTCFullYear() + '-' + String(d.getUTCMonth() + 1).padStart(2, '0'); }
    }
  },
  yAxis: {
    type: 'value', min: -38.27, max: 4.04,
    axisLine: { show: false },
    splitLine: { show: false },
    axisTick: { show: true, length: 7, lineStyle: { color: '#000', width: 1.5 }, customValues: rowCenters.concat(minorVals) },
    axisLabel: {
      customValues: rowCenters, margin: 16, color: '#000', fontFamily: FONT, fontSize: 23,
      formatter: v => { const i = rowCenters.indexOf(Math.round(v)); return i >= 0 ? rowNames[i] : ''; }
    }
  },
  series: series,
  graphic: [{
    type: 'group', x: 1317, y: 482, rotation: Math.PI / 2, silent: true,
    children: [
      { type: 'text', x: -138, y: 0, style: { text: 'Normalized value', fontFamily: FONT, fontSize: 23, fill: '#000', align: 'left', verticalAlign: 'middle' } },
      { type: 'polyline', shape: { points: [[80, -17], [74, -17], [74, 17], [80, 17]] }, style: { stroke: '#000', lineWidth: 1.6, fill: null } },
      { type: 'polyline', shape: { points: [[133, -17], [139, -17], [139, 17], [133, 17]] }, style: { stroke: '#000', lineWidth: 1.6, fill: null } },
      { type: 'line', shape: { x1: 82, y1: 0, x2: 131, y2: 0 }, style: { stroke: '#000', lineWidth: 1.3 } }
    ].concat(titleBits.map(([t, x, y, size, weight, va]) => ({
      type: 'text', x: x, y: y,
      style: { text: t, fontFamily: FONT, fontSize: size, fontWeight: weight, fill: '#000', align: 'left', verticalAlign: va }
    })))
  }]
});
</script>
</body>
</html>
